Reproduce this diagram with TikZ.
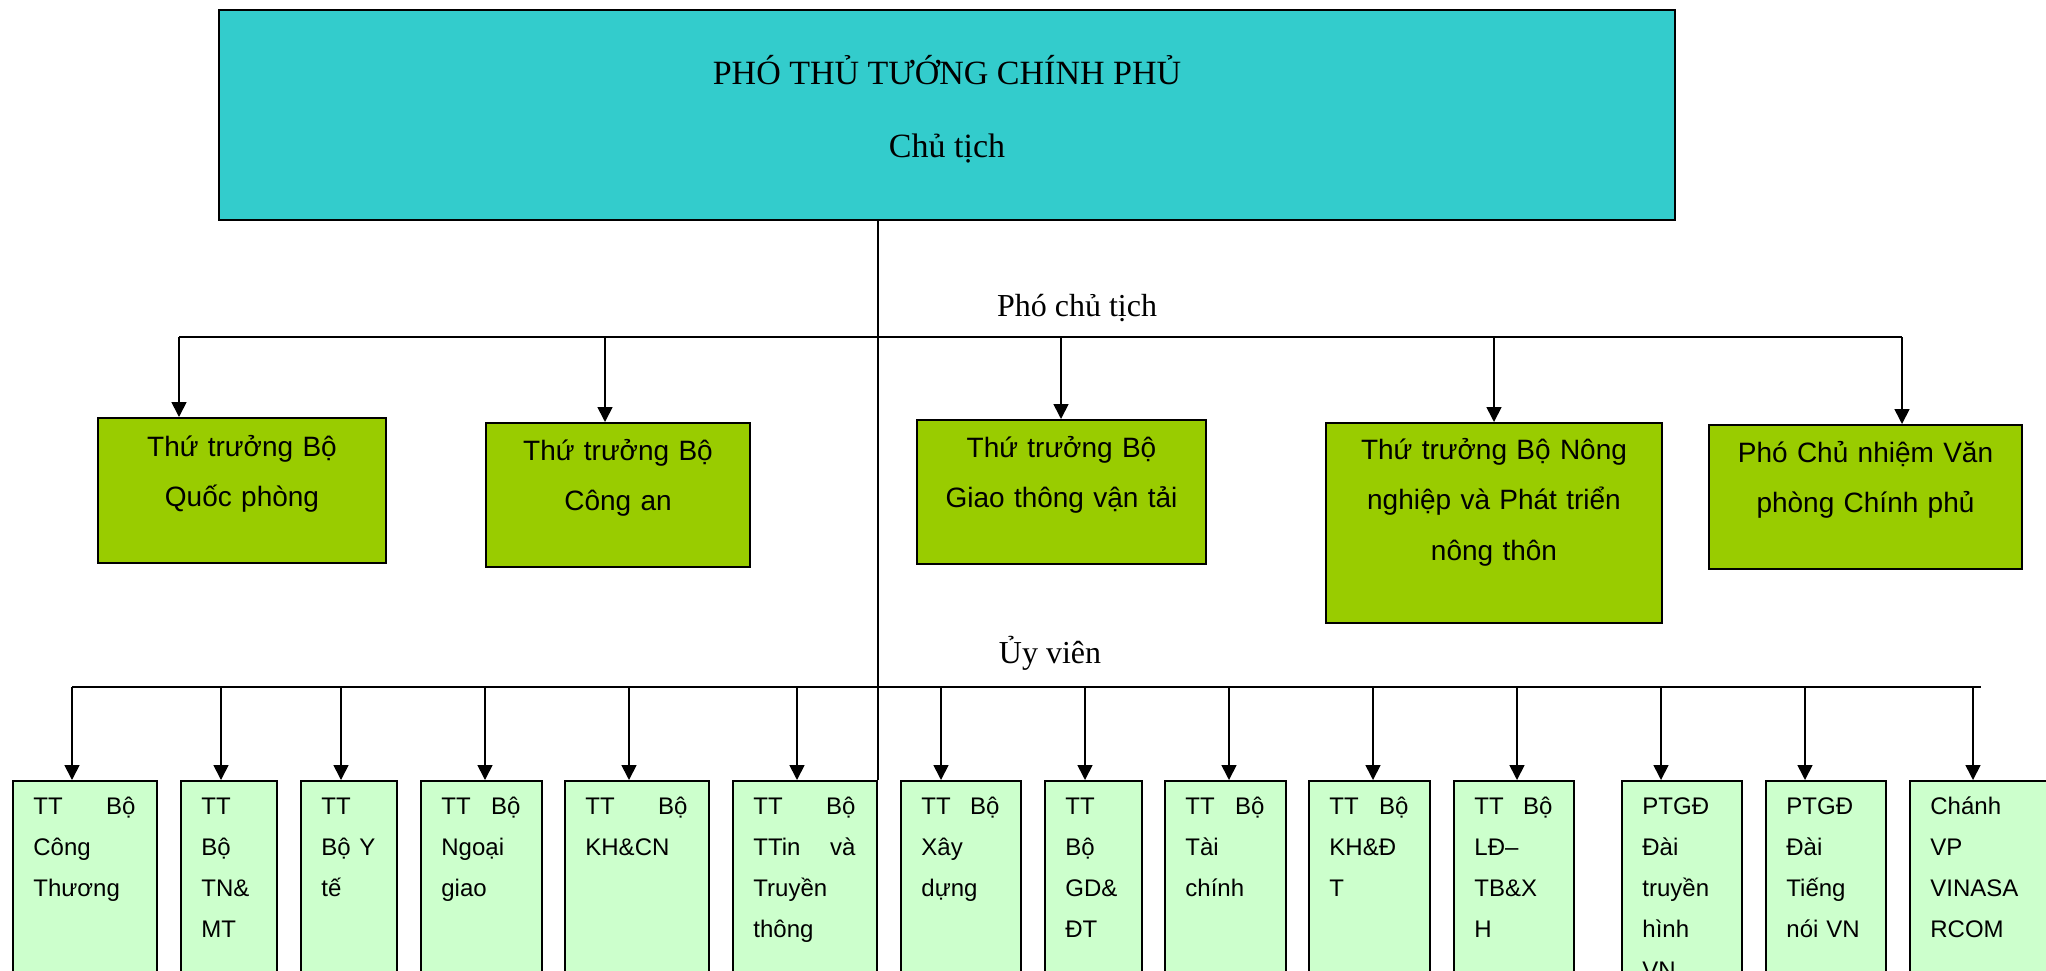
\documentclass[tikz,border=0pt]{standalone}
\usepackage{fontspec}
\setmainfont{Liberation Serif}
\setsansfont{Liberation Sans}
\usetikzlibrary{arrows.meta,positioning}
\definecolor{chiefcyan}{HTML}{33CCCC}
\definecolor{deputygreen}{HTML}{99CC00}
\definecolor{memberpale}{HTML}{CCFFCC}

\begin{document}
\begin{tikzpicture}[
  x=0.5pt, y=-0.5pt,
  chief/.style={draw, line width=1.2pt, fill=chiefcyan, minimum width=728pt, minimum height=105pt, inner sep=0pt},
  deputy/.style={draw, line width=1pt, fill=deputygreen, anchor=north west, inner sep=0pt, minimum height=72pt},
  member/.style={draw, line width=1pt, fill=memberpale, anchor=north west, inner sep=0pt, minimum height=110pt},
  headtxt/.style={anchor=base, inner sep=0pt, font=\fontsize{17}{20}\selectfont},
  bustxt/.style={anchor=base, inner sep=0pt, font=\fontsize{16}{19}\selectfont},
  deptxt/.style={anchor=base, align=center, inner sep=0pt, font=\sffamily\fontsize{14}{25.25}\selectfont},
  memtxt/.style={anchor=base west, align=left, inner sep=0pt, font=\sffamily\fontsize{12}{20.5}\selectfont},
  link/.style={line width=0.85pt},
  arr/.style={-{Triangle[width=7.5pt,length=7.5pt]}, line width=0.85pt}
]
\clip (0,0) rectangle (2046,970);
\fill[white] (0,0) rectangle (2046,970);

% chairman
\node[chief] (pm) at (947,115) {};
\node[headtxt] (pmtitle) at (947,84) {PHÓ THỦ TƯỚNG CHÍNH PHỦ};
\node[headtxt] (pmrole) at (947,157) {Chủ tịch};

% vice chairmen
\node[deputy, minimum width=144pt, minimum height=72.5pt] (m1) at (97,417) {};
\node[deputy, minimum width=132pt] (m2) at (485,422) {};
\node[deputy, minimum width=144.5pt] (m3) at (916,419) {};
\node[deputy, minimum width=168pt, minimum height=100pt] (m4) at (1325,422) {};
\node[deputy, minimum width=156.5pt] (m5) at (1708,424) {};
\node[deptxt, text width=144pt] (t1) at ([yshift=-19.5pt]m1.north) {Thứ trưởng Bộ\\Quốc phòng};
\node[deptxt, text width=132pt] (t2) at ([yshift=-19pt]m2.north) {Thứ trưởng Bộ\\Công an};
\node[deptxt, text width=144pt] (t3) at ([yshift=-19pt]m3.north) {Thứ trưởng Bộ\\Giao thông vận tải};
\node[deptxt, text width=168pt] (t4) at ([yshift=-18.5pt]m4.north) {Thứ trưởng Bộ Nông\\nghiệp và Phát triển\\nông thôn};
\node[deptxt, text width=156pt] (t5) at ([yshift=-19pt]m5.north) {Phó Chủ nhiệm Văn\\phòng Chính phủ};

% members
\node[member, minimum width=72pt] (b1) at (12,780) {};
\node[member, minimum width=48pt] (b2) at (180,780) {};
\node[member, minimum width=48pt] (b3) at (300,780) {};
\node[member, minimum width=60.5pt] (b4) at (420,780) {};
\node[member, minimum width=72pt] (b5) at (564,780) {};
\node[member, minimum width=72pt] (b6) at (732,780) {};
\node[member, minimum width=60pt] (b7) at (900,780) {};
\node[member, minimum width=48.5pt] (b8) at (1044,780) {};
\node[member, minimum width=60.5pt] (b9) at (1164,780) {};
\node[member, minimum width=60.5pt] (b10) at (1308,780) {};
\node[member, minimum width=60pt] (b11) at (1453,780) {};
\node[member, minimum width=60pt] (b12) at (1621,780) {};
\node[member, minimum width=60pt] (b13) at (1765,780) {};
\node[member, minimum width=80pt] (b14) at (1909,780) {};
\node[memtxt, text width=51pt] (s1) at ([xshift=10.5pt,yshift=-17pt]b1.north west) {TT\hfill Bộ\\Công\\Thương};
\node[memtxt, text width=27pt] (s2) at ([xshift=10.5pt,yshift=-17pt]b2.north west) {TT\\Bộ\\TN\&\\MT};
\node[memtxt, text width=27pt] (s3) at ([xshift=10.5pt,yshift=-17pt]b3.north west) {TT\\Bộ\hfill Y\\tế};
\node[memtxt, text width=39.5pt] (s4) at ([xshift=10.5pt,yshift=-17pt]b4.north west) {TT\hfill Bộ\\Ngoại\\giao};
\node[memtxt, text width=51pt] (s5) at ([xshift=10.5pt,yshift=-17pt]b5.north west) {TT\hfill Bộ\\KH\&CN};
\node[memtxt, text width=51pt] (s6) at ([xshift=10.5pt,yshift=-17pt]b6.north west) {TT\hfill Bộ\\TTin\hfill và\\Truyền\\thông};
\node[memtxt, text width=39pt] (s7) at ([xshift=10.5pt,yshift=-17pt]b7.north west) {TT\hfill Bộ\\Xây\\dựng};
\node[memtxt, text width=27.5pt] (s8) at ([xshift=10.5pt,yshift=-17pt]b8.north west) {TT\\Bộ\\GD\&\\ĐT};
\node[memtxt, text width=39.5pt] (s9) at ([xshift=10.5pt,yshift=-17pt]b9.north west) {TT\hfill Bộ\\Tài\\chính};
\node[memtxt, text width=39.5pt] (s10) at ([xshift=10.5pt,yshift=-17pt]b10.north west) {TT\hfill Bộ\\KH\&Đ\\T};
\node[memtxt, text width=39pt] (s11) at ([xshift=10.5pt,yshift=-17pt]b11.north west) {TT\hfill Bộ\\LĐ–\\TB\&X\\H};
\node[memtxt, text width=39pt] (s12) at ([xshift=10.5pt,yshift=-17pt]b12.north west) {PTGĐ\\Đài\\truyền\\hình\\VN};
\node[memtxt, text width=39pt] (s13) at ([xshift=10.5pt,yshift=-17pt]b13.north west) {PTGĐ\\Đài\\Tiếng\\nói VN};
\node[memtxt, text width=59pt] (s14) at ([xshift=10.5pt,yshift=-17pt]b14.north west) {Chánh\\VP\\VINASA\\RCOM};

% bus labels
\node[bustxt] (vicelbl) at (1077,316) {Phó chủ tịch};
\node[bustxt] (memberlbl) at (1050,663) {Ủy viên};

% trunk and buses
\draw[link] (pm.south -| b6.east) -- (b6.north east);
\coordinate (v1) at (179,337);
\coordinate (v2) at (605,337);
\coordinate (v3) at (1061,337);
\coordinate (v4) at (1494,337);
\coordinate (v5) at (1902,337);
\draw[link] (v1) -- (v5);
\draw[arr] (v1) -- (v1 |- m1.north);
\draw[arr] (v2) -- (v2 |- m2.north);
\draw[arr] (v3) -- (v3 |- m3.north);
\draw[arr] (v4) -- (v4 |- m4.north);
\draw[arr] (v5) -- (v5 |- m5.north);
\coordinate (u1) at (72,687);
\coordinate (u2) at (221,687);
\coordinate (u3) at (341,687);
\coordinate (u4) at (485,687);
\coordinate (u5) at (629,687);
\coordinate (u6) at (797,687);
\coordinate (u7) at (941,687);
\coordinate (u8) at (1085,687);
\coordinate (u9) at (1229,687);
\coordinate (u10) at (1373,687);
\coordinate (u11) at (1517,687);
\coordinate (u12) at (1661,687);
\coordinate (u13) at (1805,687);
\coordinate (u14) at (1973,687);
\coordinate (uend) at (1981,687);
\draw[link] (u1) -- (uend);
\draw[arr] (u1) -- (u1 |- b1.north);
\draw[arr] (u2) -- (u2 |- b2.north);
\draw[arr] (u3) -- (u3 |- b3.north);
\draw[arr] (u4) -- (u4 |- b4.north);
\draw[arr] (u5) -- (u5 |- b5.north);
\draw[arr] (u6) -- (u6 |- b6.north);
\draw[arr] (u7) -- (u7 |- b7.north);
\draw[arr] (u8) -- (u8 |- b8.north);
\draw[arr] (u9) -- (u9 |- b9.north);
\draw[arr] (u10) -- (u10 |- b10.north);
\draw[arr] (u11) -- (u11 |- b11.north);
\draw[arr] (u12) -- (u12 |- b12.north);
\draw[arr] (u13) -- (u13 |- b13.north);
\draw[arr] (u14) -- (u14 |- b14.north);
\end{tikzpicture}
\end{document}
